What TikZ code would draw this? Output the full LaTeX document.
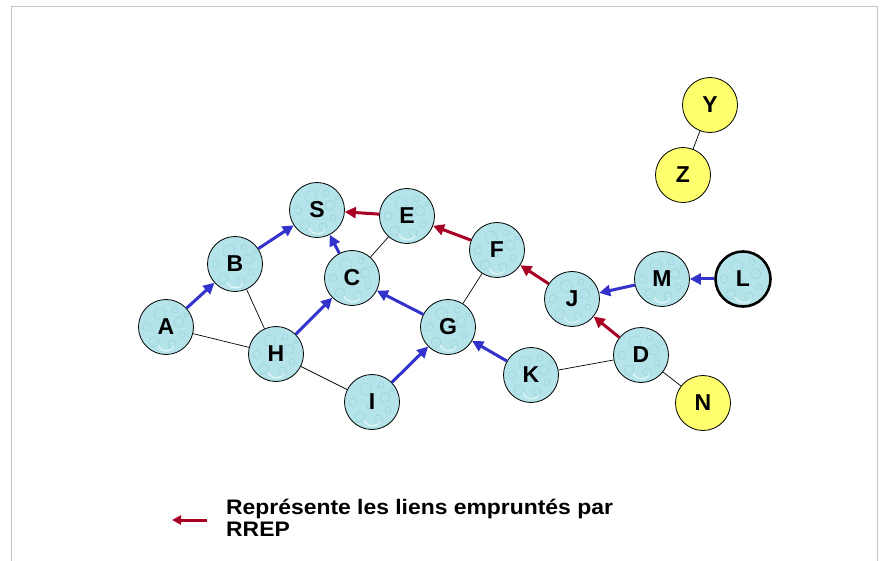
\documentclass[tikz,border=0pt]{standalone}
\usepackage{fontspec}
\setmainfont{Liberation Sans}
\newfontfamily\legendfont[FakeStretch=1.09]{Liberation Sans}
\usetikzlibrary{arrows.meta}
\definecolor{nodecyan}{RGB}{180,228,234}
\definecolor{bubble}{RGB}{120,190,202}
\definecolor{nodeyellow}{RGB}{255,255,110}
\definecolor{linkblue}{RGB}{51,51,204}
\definecolor{linkred}{RGB}{168,0,36}
\definecolor{framegray}{RGB}{196,196,196}
\begin{document}
\begin{tikzpicture}[x=1pt,y=-1pt,
  basenode/.style={circle,draw=black,line width=0.8pt,minimum size=55pt,inner sep=0pt,
    font=\fontsize{23}{23}\selectfont\bfseries},
  netnode/.style={basenode,fill=nodecyan,
    path picture={
      \foreach \dx/\dy/\r in {-12/-15/5,6/-17/4,16/-8/3,-19/0/4,13/5/5,-6/13/6,9/17/3,-2/-4/3,20/12/2}{
        \draw[bubble,opacity=0.45,line width=0.5pt]
          ([shift={(\dx pt,\dy pt)}]path picture bounding box.center) circle (\r pt);}
      \draw[white,opacity=0.6,line width=1.2pt]
          ([shift={(-8pt,-18pt)}]path picture bounding box.center) arc (200:330:9pt);
    }},
  outnode/.style={basenode,fill=nodeyellow},
  bluearrow/.style={draw=linkblue,line width=3pt,-{Triangle[length=11pt,width=11pt]}},
  redarrow/.style={draw=linkred,line width=3pt,-{Triangle[length=11pt,width=11pt]}},
  plainlink/.style={draw=black,line width=0.7pt},
  legendtext/.style={anchor=base west,inner sep=0pt,font=\fontsize{21}{22}\legendfont\bfseries}
]
\useasboundingbox (0,0) rectangle (886,561);
\fill[white] (0,0) rectangle (886,561);
\draw[framegray,line width=1pt] (11,561) -- (11,7) -- (877,7) -- (877,561);

% nodes
\node[netnode] (S) at (317,210) {S};
\node[netnode] (E) at (407,216) {E};
\node[netnode] (B) at (235,264) {B};
\node[netnode] (C) at (352,278) {C};
\node[netnode] (F) at (497,250) {F};
\node[netnode] (A) at (166,327) {A};
\node[netnode] (H) at (276,354) {H};
\node[netnode] (G) at (448,327) {G};
\node[netnode] (J) at (572,299) {J};
\node[netnode] (M) at (662,279) {M};
\node[netnode,line width=2.6pt] (L) at (743,279) {L};
\node[netnode] (D) at (641,355) {D};
\node[netnode] (K) at (531,375) {K};
\node[netnode] (I) at (372,402) {I};
\node[outnode] (N) at (703,403) {N};
\node[outnode] (Y) at (710,105) {Y};
\node[outnode] (Z) at (683,175) {Z};

% plain links
\draw[plainlink] (B) -- (H);
\draw[plainlink] (A) -- (H);
\draw[plainlink] (H) -- (I);
\draw[plainlink] (C) -- (E);
\draw[plainlink] (G) -- (F);
\draw[plainlink] (K) -- (D);
\draw[plainlink] (D) -- (N);
\draw[plainlink] (Y) -- (Z);

% blue arrows
\draw[bluearrow] (A) -- (B);
\draw[bluearrow] (B) -- (S);
\draw[bluearrow] (C) -- (S);
\draw[bluearrow] (H) -- (C);
\draw[bluearrow] (G) -- (C);
\draw[bluearrow] (I) -- (G);
\draw[bluearrow] (K) -- (G);
\draw[bluearrow] (M) -- (J);
\draw[bluearrow] (L) -- (M);

% red arrows
\draw[redarrow] (E) -- (S);
\draw[redarrow] (F) -- (E);
\draw[redarrow] (J) -- (F);
\draw[redarrow] (D) -- (J);

% legend
\coordinate (legstart) at (207,520);
\coordinate (legend) at (172,520);
\draw[redarrow,-{Triangle[length=9pt,width=9pt]}] (legstart) -- (legend);
\node[legendtext] (leg1) at (226,514) {Représente les liens empruntés par};
\node[legendtext] (leg2) at (226,536) {RREP};
\end{tikzpicture}
\end{document}
